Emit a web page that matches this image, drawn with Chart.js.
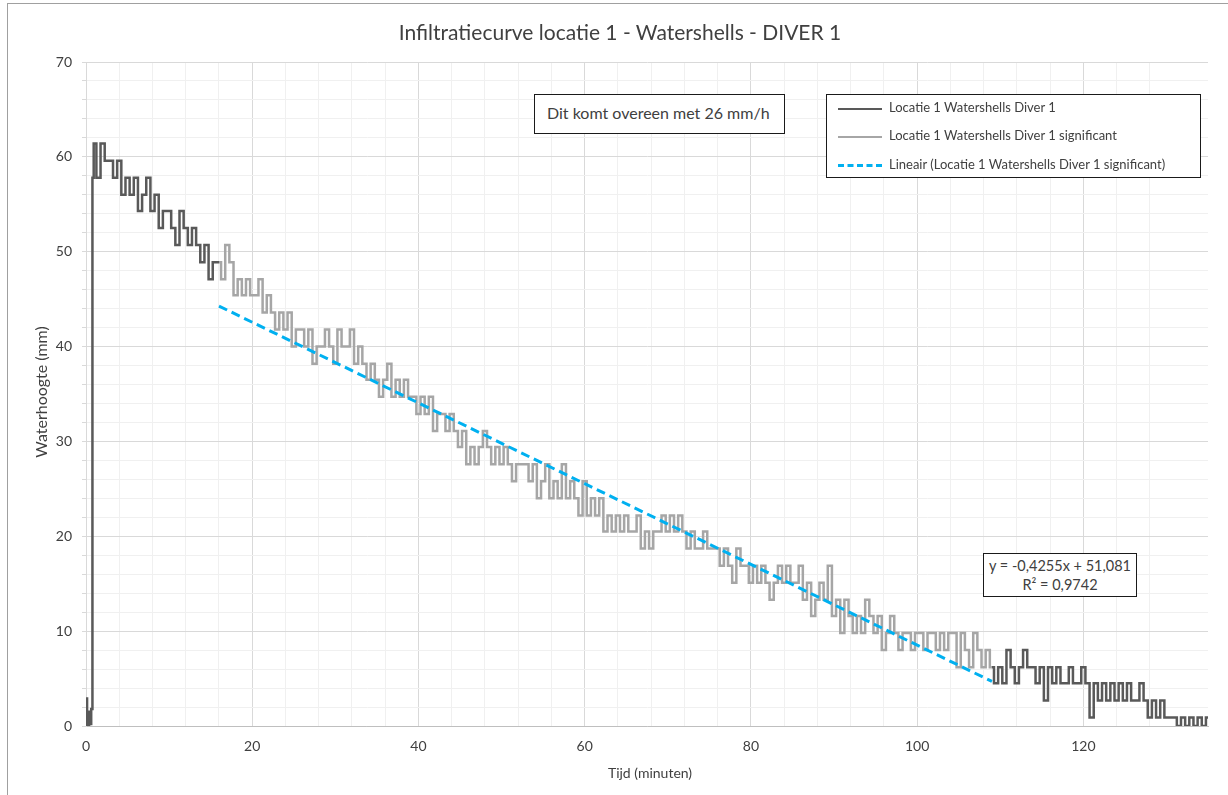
<!DOCTYPE html>
<html>
<head>
<meta charset="utf-8">
<title>Infiltratiecurve locatie 1</title>
<script src="https://cdn.jsdelivr.net/npm/chart.js@4.4.1/dist/chart.umd.min.js"></script>
<style>
  body { margin: 0; background: #fff; overflow: hidden; font-family: Lato, "Noto Sans", sans-serif; color: #404040; }
  #wrap { position: relative; width: 1228px; height: 795px; overflow: hidden; }
  #frame { position: absolute; left: 7px; top: 3px; width: 1240px; height: 820px; border: 1px solid #a0a0a0; box-sizing: border-box; }
  canvas { position: absolute; left: 0; top: 0; }
  .txt { position: absolute; white-space: nowrap; }
  #title { left: 0; width: 1240px; top: 19px; text-align: center; font-size: 21px; color: #404040; }
  #xTitle { left: 0; width: 1300px; top: 764px; text-align: center; font-size: 14px; color: #404040; }
  #yTitle { left: 40px; top: 392px; font-size: 16px; transform: translate(-50%, -50%) rotate(-90deg); color: #404040; }
  .box { position: absolute; background: #fff; border: 1.5px solid #1a1a1a; box-sizing: border-box; }
  #note { left: 534px; top: 94px; width: 251px; height: 40px; font-size: 16px; padding: 8px 0 0 12px; }
  #legend { left: 826px; top: 94px; width: 375px; height: 84px; font-size: 13px; }
  .row { position: absolute; left: 11px; height: 16px; line-height: 16px; }
  .sample { display: inline-block; width: 44px; vertical-align: middle; margin-right: 7px; }
  #eq { left: 983px; top: 553px; width: 154px; height: 44px; font-size: 14.5px; text-align: center; line-height: 19px; padding-top: 2px; }
</style>
</head>
<body>
<div id="wrap">
  <canvas id="chart" width="1228" height="795"></canvas>
  <div id="frame"></div>
  <div class="txt" id="title">Infiltratiecurve locatie 1 - Watershells - DIVER 1</div>
  <div class="txt" id="xTitle">Tijd (minuten)</div>
  <div class="txt" id="yTitle">Waterhoogte (mm)</div>
  <div class="box" id="note">Dit komt overeen met 26 mm/h</div>
  <div class="box" id="legend">
    <div class="row" style="top:4px"><span class="sample" style="border-top:2px solid #595959"></span>Locatie 1 Watershells Diver 1</div>
    <div class="row" style="top:32px"><span class="sample" style="border-top:2px solid #a6a6a6"></span>Locatie 1 Watershells Diver 1 significant</div>
    <div class="row" style="top:61px"><span class="sample" style="border-top:3px dashed #00b0f0"></span>Lineair (Locatie 1 Watershells Diver 1 significant)</div>
  </div>
  <div class="box txt" id="eq">y = -0,4255x + 51,081<br>R² = 0,9742</div>
</div>
<script>
// meetinterval van de reeksen (minuten)
const stepMin = 0.5;

// begin: diver in de buis, snelle stijging
const riseX = [0, 0.08, 0.18, 0.3, 0.45, 0.55, 0.7, 0.85];
const riseY = [0, 2.9, 0.3, 0, 1.5, 0.2, 1.8, 57.8];

// donkere reeks, deel 1 (1 t/m 16 min)
const headStart = 1.0;
const headY = [61.4, 57.8, 61.4, 59.6, 59.6, 57.8, 59.6, 56.0, 57.8, 56.0, 57.8, 54.3, 56.0, 57.8, 54.3, 56.0,
  52.5, 54.3, 54.3, 52.5, 50.7, 54.3, 52.5, 50.7, 52.5, 50.7, 48.9, 50.7, 47.1, 48.9, 48.9];

// significante reeks (16 t/m 109 min)
const sigStart = 16.0;
const sigY = [
  48.9, 47.1, 50.7, 48.9,
  45.4, 47.1, 45.4, 47.1, 45.4, 45.4,
  47.1, 43.6, 45.4, 43.6,
  41.8, 43.6, 41.8, 43.6, 40.0,
  41.8, 41.8, 40.0, 41.8, 38.2, 40.0,
  40.0, 41.8, 40.0, 38.2, 41.8, 40.0, 40.0, 41.8, 38.2, 40.0,
  38.2, 36.5, 38.2, 36.5,
  34.7, 36.5, 38.2, 34.7, 36.5, 34.7,
  36.5, 34.7, 34.7, 32.9,
  34.7, 32.9, 34.7, 31.1, 32.9, 32.9, 31.1,
  32.9, 31.1, 29.4, 31.1,
  27.6, 29.4, 27.6, 29.4, 31.1, 29.4, 27.6, 29.4,
  27.6, 29.4, 27.6, 25.8, 27.6, 27.6, 27.6,
  25.8, 27.6, 24.0, 25.8, 27.6, 24.0, 25.8, 24.0, 27.6, 24.0, 25.8, 24.0,
  22.2, 25.8, 22.2, 24.0,
  22.2, 24.0, 20.5, 22.2, 20.5, 22.2,
  20.5, 22.2, 20.5, 20.5, 22.2,
  18.7, 20.5, 18.7, 20.5, 20.5,
  22.2, 20.5, 22.2, 20.5, 22.2, 20.5,
  18.7, 20.5, 18.7,
  18.7, 20.5, 18.7, 18.7, 18.7,
  16.9, 18.7, 16.9, 15.1, 18.7, 16.9, 16.9, 15.1,
  16.9, 15.1, 16.9, 15.1, 13.3, 15.1, 16.9, 15.1, 16.9, 15.1, 15.1, 16.9,
  13.3, 15.1, 11.6, 13.3, 15.1, 13.3, 16.9,
  11.6, 13.3, 9.8, 13.3, 11.6, 9.8, 11.6,
  9.8, 13.3, 11.6, 9.8, 11.6,
  8.0, 9.8, 11.6, 9.8, 8.0, 9.8, 9.8, 8.0, 9.8,
  9.8, 8.0, 9.8, 9.8, 8.0, 9.8, 8.0, 9.8, 9.8,
  6.2, 9.8, 8.0, 6.2, 9.8,
  8.0, 6.2, 8.0, 6.2
];

// donkere reeks, deel 2 (109 t/m 135 min)
const tailStart = 109.0;
const tailY = [6.2, 4.5, 6.2, 4.5, 8.0, 6.2, 4.5, 6.2, 8.0, 6.2, 6.2, 4.5, 6.2, 2.7, 6.2, 4.5, 6.2, 4.5,
  4.5, 6.2, 4.5, 4.5, 6.2, 4.5, 0.9, 4.5, 2.7, 4.5, 2.7, 4.5, 2.7, 4.5, 2.7, 4.5, 2.7, 2.7, 4.5, 2.7,
  0.9, 2.7, 0.9, 2.7, 0.9, 0.9, 0.9, 0, 0.9, 0, 0.9, 0, 0.9, 0, 0.9];

// lineaire trendlijn (eindpunten)
const trendX = [16, 109];
const trendY = [44.27, 4.70];

// assen
const xMin = 0, xMax = 135, xMinorStep = 4, xMajorStep = 20;
const yMin = 0, yMax = 70, yMinorStep = 2, yMajorStep = 10;

function toPoints(start, ys) {
    return ys.map((y, i) => ({ x: start + i * stepMin, y: y }));
}

const darkPts = riseX.map((x, i) => ({ x: x, y: riseY[i] }))
    .concat(toPoints(headStart, headY))
    .concat([{ x: 60, y: null }])
    .concat(toPoints(tailStart, tailY));
const sigPts = toPoints(sigStart, sigY);
const trendPts = trendX.map((x, i) => ({ x: x, y: trendY[i] }));

const fontFam = 'Lato, "Noto Sans", sans-serif';

new Chart(document.getElementById('chart'), {
    type: 'line',
    data: {
        datasets: [
            { label: 'Lineair (Locatie 1 Watershells Diver 1 significant)', data: trendPts,
              borderColor: '#00b0f0', borderWidth: 3, borderDash: [9, 5], pointRadius: 0, order: 0 },
            { label: 'Locatie 1 Watershells Diver 1 significant', data: sigPts, stepped: 'middle',
              borderColor: '#a6a6a6', borderWidth: 2.5, pointRadius: 0, order: 1 },
            { label: 'Locatie 1 Watershells Diver 1', data: darkPts, stepped: 'middle',
              borderColor: '#595959', borderWidth: 2.5, pointRadius: 0, order: 2, spanGaps: false }
        ]
    },
    options: {
        responsive: false,
        animation: false,
        devicePixelRatio: 1,
        layout: { padding: { left: 0, right: 20, top: 62, bottom: 0 } },
        plugins: { legend: { display: false }, title: { display: false }, tooltip: { enabled: false } },
        scales: {
            x: {
                type: 'linear', min: xMin, max: xMax,
                afterFit: s => { s.height = 69; },
                border: { color: '#bfbfbf' },
                grid: {
                    drawTicks: false,
                    color: c => {
                        const v = c.tick ? c.tick.value : 0;
                        if (v % xMajorStep === 0) return '#d9d9d9';
                        if (v % xMinorStep === 0) return '#f0f0f0';
                        return 'rgba(0,0,0,0)';
                    }
                },
                ticks: {
                    stepSize: xMinorStep, autoSkip: false, maxRotation: 0, padding: 12,
                    color: '#404040', font: { family: fontFam, size: 14 },
                    callback: v => (v % xMajorStep === 0 ? v : '')
                }
            },
            y: {
                min: yMin, max: yMax,
                afterFit: s => { s.width = 86; },
                border: { color: '#d9d9d9' },
                grid: {
                    tickLength: 4,
                    tickColor: '#d9d9d9',
                    color: c => (c.tick && c.tick.value % yMajorStep === 0 ? '#d9d9d9' : '#f0f0f0')
                },
                ticks: {
                    stepSize: yMinorStep, autoSkip: false, padding: 10,
                    color: '#404040', font: { family: fontFam, size: 14 },
                    callback: v => (v % yMajorStep === 0 ? v : '')
                }
            }
        }
    }
});
</script>
</body>
</html>
